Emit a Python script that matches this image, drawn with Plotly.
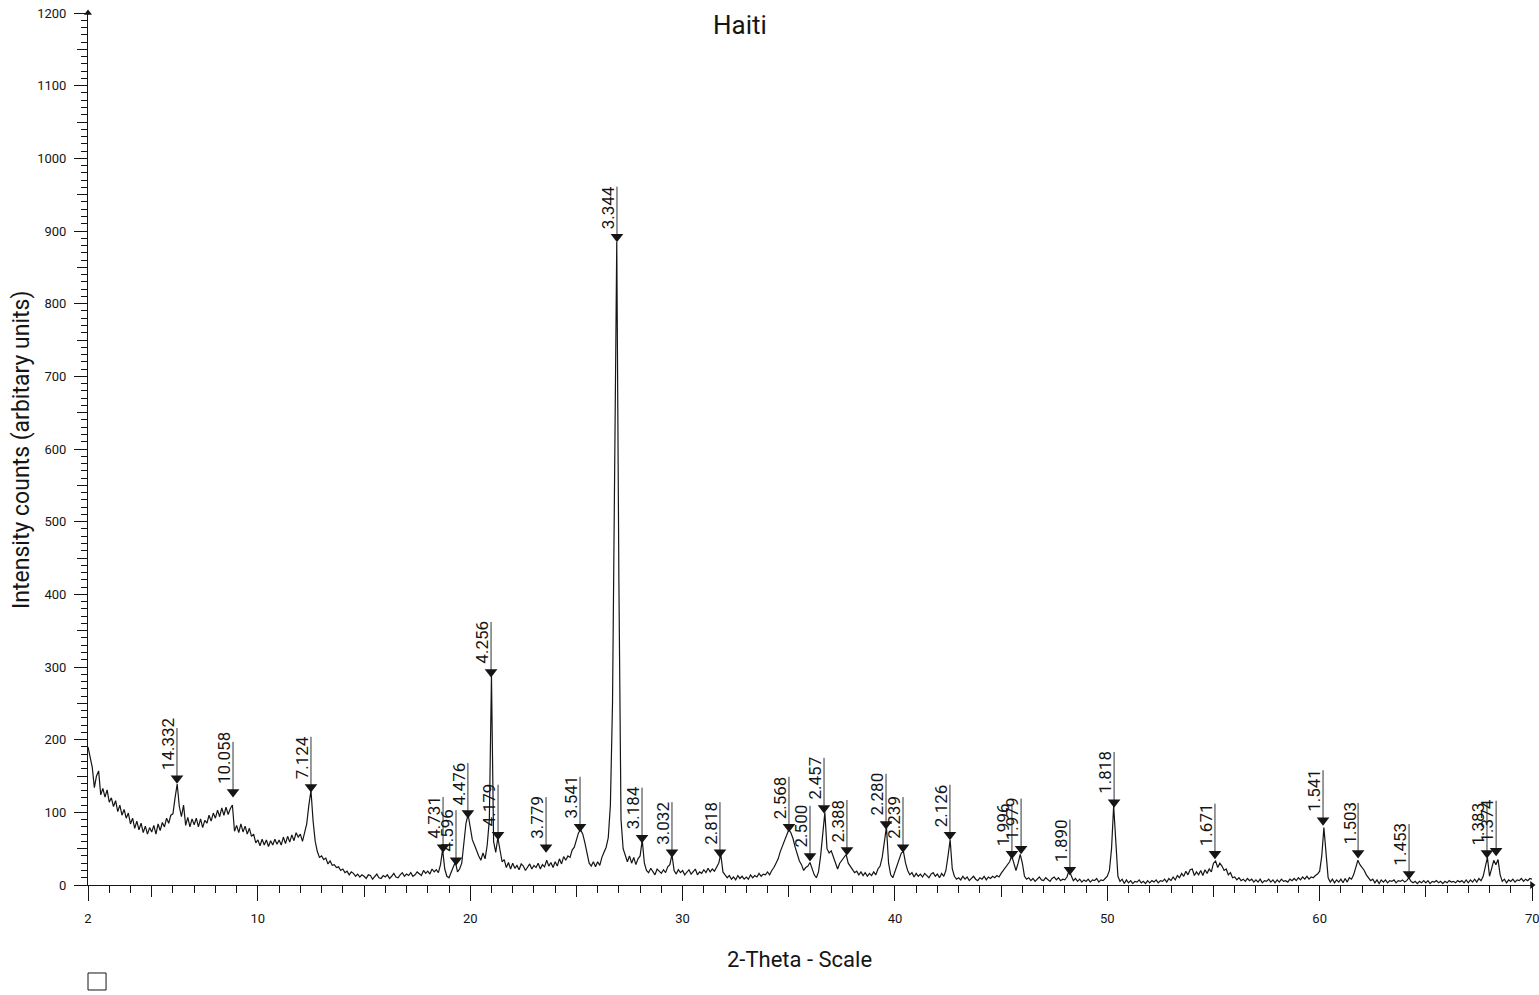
import plotly.graph_objects as go

# Powder XRD scan: 2-theta from 2 to 70 degrees in 0.1 degree steps
SCAN_START = 2.0
SCAN_STEP = 0.1

counts = [
    190, 176, 162, 134, 150, 157, 124, 133, 121, 131,   # 2
    114, 120, 108, 116, 101, 110, 96, 104, 92, 99,      # 3
    84, 92, 78, 88, 76, 85, 72, 81, 70, 79,             # 4
    73, 82, 70, 84, 75, 86, 80, 92, 85, 96,             # 5
    98, 120, 139, 108, 94, 110, 82, 93, 80, 91,         # 6
    83, 92, 80, 91, 79, 89, 85, 96, 88, 99,             # 7
    92, 103, 94, 106, 96, 107, 97, 105, 110, 74,        # 8
    82, 72, 84, 73, 81, 70, 78, 67, 70, 58,             # 9
    62, 54, 63, 55, 62, 53, 61, 55, 63, 56,             # 10
    62, 55, 66, 57, 67, 59, 69, 61, 72, 66,             # 11
    70, 60, 74, 84, 110, 130, 88, 60, 46, 38,           # 12
    40, 35, 37, 29, 33, 27, 28, 24, 25, 20,             # 13
    22, 17, 19, 14, 18, 16, 12, 15, 11, 14,             # 14
    12, 9, 14, 13, 8, 11, 15, 10, 9, 13,                # 15
    11, 14, 9, 12, 16, 11, 10, 14, 17, 12,              # 16
    15, 13, 17, 12, 14, 18, 15, 13, 20, 16,             # 17
    19, 15, 22, 18, 21, 17, 28, 49, 22, 12,             # 18
    10, 18, 26, 32, 18, 22, 30, 58, 85, 97,             # 19
    82, 62, 55, 46, 40, 34, 44, 36, 55, 90,             # 20
    288, 60, 45, 65, 48, 32, 35, 24, 31, 22,            # 21
    30, 23, 27, 21, 29, 26, 20, 25, 29, 22,             # 22
    27, 24, 30, 22, 28, 25, 34, 26, 31, 24,             # 23
    32, 26, 36, 29, 39, 34, 40, 38, 48, 52,             # 24
    62, 72, 76, 70, 58, 42, 30, 26, 32, 25,             # 25
    32, 27, 38, 45, 52, 65, 110, 250, 620, 885,         # 26
    420, 90, 50, 40, 32, 40, 30, 38, 28, 36,            # 27
    40, 62, 30, 20, 17, 23, 18, 14, 22, 19,             # 28
    16, 21, 17, 25, 28, 42, 20, 15, 21, 17,             # 29
    20, 14, 18, 21, 15, 19, 22, 14, 18, 16,             # 30
    21, 17, 23, 18, 22, 19, 25, 30, 42, 18,             # 31
    14, 10, 13, 8, 11, 7, 13, 9, 12, 8,                 # 32
    11, 8, 14, 10, 13, 11, 16, 12, 15, 14,              # 33
    18, 14, 20, 24, 30, 36, 46, 54, 62, 70,             # 34
    76, 72, 64, 52, 42, 33, 28, 20, 24, 26,             # 35
    31, 22, 14, 10, 18, 40, 75, 100, 50, 44,            # 36
    47, 38, 28, 22, 30, 34, 38, 42, 30, 26,             # 37
    22, 17, 19, 14, 18, 13, 17, 12, 16, 13,             # 38
    18, 14, 22, 26, 38, 60, 80, 30, 14, 10,             # 39
    18, 28, 36, 44, 46, 30, 20, 14, 17, 11,             # 40
    16, 12, 15, 11, 16, 13, 10, 15, 17, 12,             # 41
    15, 10, 16, 12, 20, 40, 62, 22, 12, 8,              # 42
    10, 7, 12, 8, 11, 6, 9, 12, 8, 6,                   # 43
    10, 8, 12, 7, 11, 9, 12, 10, 13, 11,                # 44
    16, 20, 24, 28, 32, 40, 28, 20, 30, 42,             # 45
    30, 12, 8, 10, 6, 9, 5, 8, 11, 7,                   # 46
    6, 10, 8, 5, 9, 11, 7, 10, 6, 8,                    # 47
    7, 11, 20, 12, 6, 9, 5, 8, 4, 7,                    # 48
    5, 8, 4, 7, 6, 9, 4, 7, 6, 9,                       # 49
    12, 20, 50, 109, 55, 12, 5, 8, 2, 7,                # 50
    3, 6, 2, 5, 4, 7, 3, 5, 2, 6,                       # 51
    3, 6, 4, 7, 3, 6, 5, 8, 4, 9,                       # 52
    6, 11, 7, 13, 10, 16, 12, 19, 14, 21,               # 53
    22, 13, 18, 14, 20, 13, 21, 16, 22, 18,             # 54
    30, 33, 24, 30, 26, 20, 22, 14, 17, 10,             # 55
    11, 7, 10, 6, 8, 5, 9, 6, 8, 4,                     # 56
    7, 4, 8, 3, 6, 5, 8, 4, 7, 3,                       # 57
    7, 4, 8, 5, 6, 4, 8, 6, 9, 6,                       # 58
    10, 7, 11, 8, 12, 8, 11, 10, 13, 15,                # 59
    19, 40, 79, 45, 10, 4, 8, 3, 7, 4,                  # 60
    8, 3, 9, 4, 10, 8, 14, 24, 34, 28,                  # 61
    24, 20, 14, 10, 6, 8, 3, 7, 2, 7,                   # 62
    4, 7, 3, 6, 5, 7, 3, 6, 5, 7,                       # 63
    4, 6, 10, 5, 3, 5, 2, 5, 3, 6,                      # 64
    3, 6, 2, 5, 4, 6, 3, 5, 2, 5,                       # 65
    3, 6, 4, 5, 3, 6, 4, 6, 3, 7,                       # 66
    3, 7, 4, 8, 4, 9, 6, 12, 24, 38,                    # 67
    12, 22, 34, 28, 35, 14, 5, 8, 3, 7,                 # 68
    5, 8, 4, 7, 6, 9, 5, 8, 6, 9,                       # 69
    8,                                                  # 70
]
two_theta = [round(SCAN_START + SCAN_STEP * i, 2) for i in range(len(counts))]

# Identified reflections: d-spacing label, 2-theta position, marker height
peak_d = [
    "14.332", "10.058", "7.124", "4.731", "4.596", "4.476", "4.256", "4.179",
    "3.779", "3.541", "3.344", "3.184", "3.032", "2.818", "2.568", "2.500",
    "2.457", "2.388", "2.280", "2.239", "2.126", "1.996", "1.979", "1.890",
    "1.818", "1.671", "1.541", "1.503", "1.453", "1.383", "1.374",
]
peak_theta = [
    6.19, 8.83, 12.50, 18.72, 19.33, 19.89, 20.98, 21.31,
    23.57, 25.17, 26.91, 28.09, 29.50, 31.76, 35.01, 36.00,
    36.66, 37.74, 39.58, 40.38, 42.59, 45.51, 45.94, 48.24,
    50.32, 55.07, 60.16, 61.81, 64.21, 67.88, 68.31,
]
peak_mark = [
    147, 128, 135, 52, 34, 99, 293, 69,
    52, 80, 892, 65, 45, 45, 80, 40,
    106, 48, 84, 52, 69, 43, 50, 21,
    114, 43, 89, 44, 15, 44, 47,
]

STEM = 69  # leader line length above each marker, in counts

x_major = [2, 10, 20, 30, 40, 50, 60]
x_end = 70
x_mid = [5, 15, 25, 35, 45, 55, 65]
y_major = list(range(0, 1201, 100))
y_mid = list(range(50, 1200, 100))

INK = "#151515"
FONT = "Roboto"

fig = go.Figure()

fig.add_trace(go.Scatter(
    x=two_theta, y=counts, mode="lines",
    line=dict(color=INK, width=1.2), hoverinfo="skip",
))

stem_x, stem_y = [], []
for t, m in zip(peak_theta, peak_mark):
    stem_x += [t, t, None]
    stem_y += [m, m + STEM, None]
fig.add_trace(go.Scatter(
    x=stem_x, y=stem_y, mode="lines",
    line=dict(color="#333333", width=1), hoverinfo="skip",
))
fig.add_trace(go.Scatter(
    x=peak_theta, y=peak_mark, mode="markers",
    marker=dict(symbol="triangle-down", size=11, color=INK),
    hoverinfo="skip",
))

for d, t, m in zip(peak_d, peak_theta, peak_mark):
    fig.add_annotation(
        x=t, y=m, text=d, textangle=-90, showarrow=False,
        xanchor="right", yanchor="bottom", xshift=3, yshift=6,
        font=dict(family=FONT, size=17, color=INK),
    )

# axis arrowheads
fig.add_trace(go.Scatter(
    x=[2], y=[1200], mode="markers", cliponaxis=False,
    marker=dict(symbol="triangle-up", size=7, color=INK), hoverinfo="skip",
))
fig.add_trace(go.Scatter(
    x=[70], y=[0], mode="markers", cliponaxis=False,
    marker=dict(symbol="triangle-right", size=7, color=INK), hoverinfo="skip",
))

# carriers for the secondary tick axes
fig.add_trace(go.Scatter(x=[2], y=[0], xaxis="x2", yaxis="y", mode="markers",
                         marker=dict(opacity=0), hoverinfo="skip"))
fig.add_trace(go.Scatter(x=[2], y=[0], xaxis="x", yaxis="y2", mode="markers",
                         marker=dict(opacity=0), hoverinfo="skip"))

fig.update_layout(
    width=1539, height=995,
    margin=dict(l=88, r=7, t=13, b=110),
    plot_bgcolor="white", paper_bgcolor="white",
    showlegend=False,
    font=dict(family=FONT, color=INK),
    xaxis=dict(
        range=[2, 70], showline=True, linecolor=INK, linewidth=1,
        showgrid=False, zeroline=False, automargin=False,
        tickmode="array", tickvals=x_major + [x_end],
        ticktext=[str(v) for v in x_major] + [""],
        ticks="outside", ticklen=15, tickcolor=INK, tickwidth=1,
        tickfont=dict(size=13, family=FONT), ticklabelstandoff=6,
        minor=dict(dtick=1, tick0=0, ticks="outside", ticklen=7, tickcolor=INK),
    ),
    xaxis2=dict(
        range=[2, 70], overlaying="x", anchor="y", side="bottom",
        showline=False, showgrid=False, zeroline=False, automargin=False,
        tickmode="array", tickvals=x_mid, showticklabels=False,
        ticks="outside", ticklen=11, tickcolor=INK, tickwidth=1,
    ),
    yaxis=dict(
        range=[0, 1200], showline=True, linecolor=INK, linewidth=1,
        showgrid=False, zeroline=False, automargin=False,
        tickmode="array", tickvals=y_major, ticktext=[str(v) for v in y_major],
        ticks="outside", ticklen=13, tickcolor=INK, tickwidth=1,
        tickfont=dict(size=13, family=FONT), ticklabelstandoff=5,
        minor=dict(dtick=10, tick0=0, ticks="outside", ticklen=6, tickcolor=INK),
    ),
    yaxis2=dict(
        range=[0, 1200], overlaying="y", anchor="x", side="left",
        showline=False, showgrid=False, zeroline=False, automargin=False,
        tickmode="array", tickvals=y_mid, showticklabels=False,
        ticks="outside", ticklen=10, tickcolor=INK, tickwidth=1,
    ),
)

# last x tick label sits on the right edge of the page
fig.add_annotation(
    x=x_end, xref="x", yref="paper", y=-0.038, text=str(x_end),
    showarrow=False, xanchor="center", yanchor="middle",
    font=dict(family=FONT, size=13, color=INK),
)

fig.add_annotation(
    xref="paper", yref="paper", x=0.4515, y=0.986, text="Haiti",
    showarrow=False, xanchor="center", yanchor="middle",
    font=dict(family=FONT, size=26, color=INK),
)
fig.add_annotation(
    xref="paper", yref="paper", x=0.493, y=-0.086, text="2-Theta - Scale",
    showarrow=False, xanchor="center", yanchor="middle",
    font=dict(family=FONT, size=22, color=INK),
)
fig.add_annotation(
    xref="paper", yref="paper", x=-0.0457, y=0.499,
    text="Intensity counts (arbitary units)", textangle=-90,
    showarrow=False, xanchor="center", yanchor="middle",
    font=dict(family=FONT, size=23, color=INK),
)

# small empty box below the axis origin
fig.add_shape(
    type="rect", xref="paper", yref="paper",
    x0=0.0, x1=0.0125, y0=-0.1204, y1=-0.1009,
    line=dict(color=INK, width=1), fillcolor="white",
)

fig.write_html("out.html")
